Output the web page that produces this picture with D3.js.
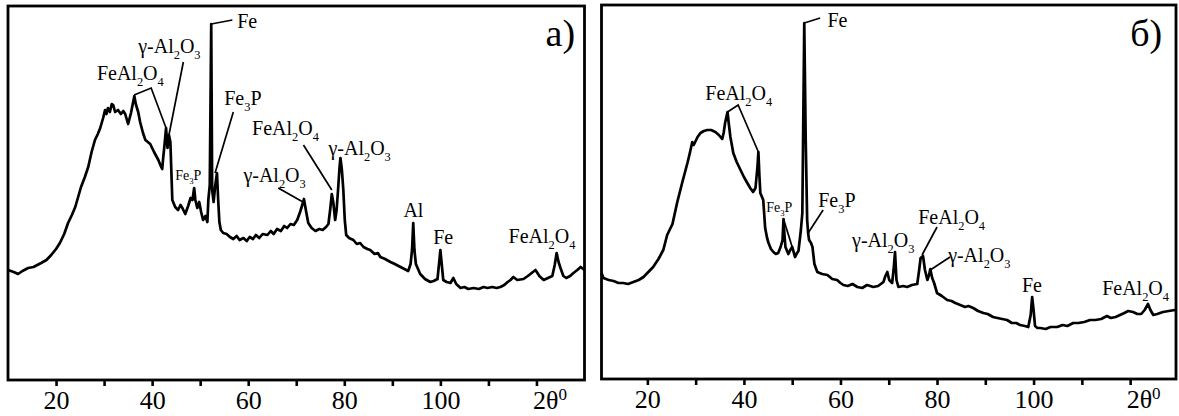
<!DOCTYPE html>
<html>
<head>
<meta charset="utf-8">
<script src="https://cdn.jsdelivr.net/npm/d3@7"></script>
<style>
  body { margin: 0; background: #fff; }
  svg { display: block; }
  svg text { font-family: "Liberation Serif", "Times New Roman", Times, Tinos, "Noto Serif", "DejaVu Serif", serif; }
  .curve { fill: none; stroke: #000; stroke-width: 2.7; stroke-linejoin: round; }
  .leader { fill: none; stroke: #000; stroke-width: 1.7; }
  .frame { fill: none; stroke: #000; stroke-width: 2.8; }
  .tick line { stroke: #000; stroke-width: 2.6; }
</style>
</head>
<body>
<svg id="chart" width="1179" height="416"></svg>
<script>
// diffraction pattern a)
const thetaA = [10.0, 11.2, 12.1, 13.0, 14.2, 15.3, 16.9, 18.0, 19.0, 20.0, 20.8, 21.7, 22.5, 23.3, 24.0, 25.2, 26.0, 26.7, 27.4, 28.1,
  28.7, 29.2, 29.8, 30.2, 30.5, 30.8, 31.2, 31.6, 31.9, 32.3, 32.9, 33.5, 34.0, 34.4, 35.0, 35.6, 36.3, 36.6, 37.1, 37.5,
  38.1, 38.6, 39.6, 40.4, 41.3, 41.8, 42.1, 42.3, 42.6, 42.9, 43.2, 43.5, 43.8, 44.2, 44.8, 45.4, 45.9, 46.3, 46.9, 47.2,
  47.5, 48.0, 48.4, 48.75, 49.0, 49.4, 49.8, 50.2, 50.6, 51.1, 51.5, 51.7, 52.0, 52.3, 52.5, 52.8, 53.1, 53.5, 53.75, 54.0,
  54.3, 54.8, 55.5, 56.2, 56.9, 57.6, 58.2, 59.0, 59.7, 60.3, 61.0, 61.6, 62.3, 63.0, 64.0, 64.7, 65.3, 66.0, 66.8, 67.5,
  68.1, 68.8, 69.5, 70.2, 70.8, 71.25, 71.6, 72.0, 72.5, 73.2, 74.0, 74.8, 75.5, 76.2, 76.7, 77.1, 77.4, 77.7, 78.1, 78.4,
  78.7, 79.0, 79.2, 79.5, 79.8, 80.1, 80.4, 81.0, 81.9, 82.6, 83.3, 84.0, 84.8, 85.4, 86.3, 87.0, 87.5, 88.5, 89.6, 90.5,
  91.7, 92.5, 93.3, 93.8, 94.1, 94.35, 94.6, 94.9, 95.8, 96.8, 97.9, 98.6, 99.4, 99.8, 100.0, 100.3, 100.6, 101.3, 102.1, 102.7,
  103.3, 104.2, 105.0, 105.8, 106.9, 108.0, 109.0, 109.8, 110.8, 111.7, 112.5, 113.3, 114.0, 114.6, 115.2, 116.0, 117.3, 118.2, 119.0, 119.8,
  120.6, 121.5, 122.4, 123.3, 123.8, 124.2, 124.6, 125.0, 125.6, 126.2, 127.0, 127.7, 128.5, 129.2, 130.0];
const intensityA = [110, 108, 106, 109, 112, 113, 117, 120, 125, 131, 137, 146, 157, 165, 173, 193, 203, 213, 228, 240,
  246, 252, 262, 270, 266, 272, 268, 276, 275, 268, 270, 266, 269, 266, 256, 267, 284, 276, 268, 258,
  247, 240, 236, 228, 220, 214, 211, 222, 236, 252, 232, 245, 238, 180, 173, 170, 175, 172, 166, 170,
  174, 182, 180, 192, 180, 172, 178, 168, 160, 164, 158, 180, 195, 356, 190, 178, 193, 207, 180, 158,
  150, 147, 146, 143, 141, 144, 140, 142, 139, 143, 141, 145, 142, 146, 145, 149, 146, 151, 149, 154,
  152, 156, 155, 160, 168, 175, 181, 170, 157, 152, 149, 151, 150, 153, 156, 172, 186, 178, 160, 170,
  190, 212, 222, 210, 190, 160, 145, 142, 140, 136, 137, 133, 131, 130, 126, 127, 123, 121, 118, 116,
  113, 111, 109, 116, 130, 157, 130, 116, 106, 101, 98, 99, 101, 120, 130, 115, 100, 98, 97, 102,
  96, 92, 93, 91, 92, 91, 93, 92, 93, 92, 93, 95, 98, 100, 103, 100, 101, 104, 107, 110,
  104, 100, 102, 104, 115, 127, 118, 112, 104, 102, 104, 107, 110, 113, 110];

// diffraction pattern б)
const thetaB = [10.5, 10.9, 12.0, 13.0, 14.0, 15.0, 16.0, 17.1, 18.2, 19.2, 20.2, 21.2, 22.3, 23.3, 24.1, 25.2, 26.2, 27.2, 28.3, 28.8,
  29.3, 29.6, 29.9, 30.4, 31.0, 31.7, 32.4, 33.2, 34.1, 34.8, 35.5, 35.8, 36.1, 36.6, 36.9, 37.2, 37.8, 38.5, 39.3, 40.0,
  40.7, 41.3, 41.9, 42.4, 42.8, 43.0, 43.2, 43.4, 44.0, 44.4, 44.8, 45.1, 45.6, 46.1, 46.6, 47.1, 47.6, 48.0, 48.2, 48.4,
  48.6, 49.2, 49.6, 50.0, 50.6, 51.0, 51.3, 51.8, 52.1, 52.5, 52.8, 53.1, 53.3, 53.5, 53.9, 54.2, 54.6, 55.2, 56.2, 57.3,
  58.3, 59.3, 60.0, 60.6, 61.5, 62.5, 63.5, 64.5, 65.5, 66.8, 67.8, 68.9, 69.3, 69.7, 70.1, 70.7, 71.0, 71.3, 71.6, 72.0,
  73.0, 73.8, 74.8, 75.9, 76.3, 76.6, 77.1, 77.5, 78.0, 78.4, 78.6, 79.0, 79.4, 80.0, 81.0, 82.1, 83.0, 83.8, 84.8, 85.8,
  86.5, 87.5, 88.5, 89.6, 90.5, 91.6, 92.5, 93.5, 94.5, 95.5, 96.4, 97.2, 98.2, 98.9, 99.4, 99.7, 100.0, 100.3, 100.8, 101.4,
  102.5, 103.5, 104.9, 106.0, 107.0, 108.2, 109.3, 110.5, 111.7, 112.8, 114.0, 115.2, 116.0, 117.0, 117.9, 118.8, 119.6, 120.6, 121.5, 122.3,
  123.0, 123.7, 124.2, 124.8, 125.6, 126.8, 128.0, 129.3];
const intensityB = [107, 102, 100, 99, 97, 97, 96, 98, 100, 103, 108, 113, 121, 130, 145, 156, 178, 197, 217, 227,
  238, 235, 238, 243, 247, 249, 250, 250, 248, 245, 241, 247, 257, 268, 255, 243, 227, 218, 210, 203,
  197, 192, 188, 192, 213, 228, 205, 187, 180, 152, 142, 137, 131, 128, 126, 127, 133, 140, 161, 145,
  133, 126, 130, 133, 123, 127, 129, 150, 167, 357, 240, 160, 147, 140, 137, 133, 116, 108, 106, 105,
  101, 100, 97, 95, 94, 96, 93, 92, 95, 93, 94, 98, 104, 108, 100, 97, 110, 128, 100, 93,
  94, 93, 95, 96, 110, 122, 124, 110, 100, 106, 111, 102, 97, 87, 84, 80, 79, 77, 75, 73,
  74, 72, 69, 67, 66, 63, 62, 61, 60, 57, 57, 55, 54, 53, 65, 83, 70, 54, 52, 52,
  51, 53, 53, 55, 54, 57, 57, 58, 60, 60, 61, 64, 62, 63, 65, 67, 69, 68, 66, 66,
  70, 76, 70, 65, 66, 68, 69, 70];

const tickValues = [20, 30, 40, 50, 60, 70, 80, 90, 100, 110, 120];
const tickLabels = ["20", "", "40", "", "60", "", "80", "", "100", "", "2θ"];
const axisUnit = "0";
const panelNames = ["a)", "б)"];

// phase labels: text (_n = subscript), 2θ and intensity of the baseline start
const labelsA = [
  { text: "FeAl_2O_4", t: 28.5, i: 300 },
  { text: "γ-Al_2O_3", t: 37.1, i: 327 },
  { text: "Fe", t: 57.7, i: 352 },
  { text: "Fe_3P", t: 55.0, i: 275 },
  { text: "Fe_3P", t: 44.8, i: 200, small: true },
  { text: "FeAl_2O_4", t: 60.8, i: 245 },
  { text: "γ-Al_2O_3", t: 76.7, i: 225 },
  { text: "γ-Al_2O_3", t: 59.0, i: 198 },
  { text: "Al", t: 92.3, i: 163 },
  { text: "Fe", t: 98.5, i: 136 },
  { text: "FeAl_2O_4", t: 114.2, i: 137 }
];
const leadersA = [
  [[36.25, 285], [39.8, 292], [42.9, 252]],
  [[46.5, 318], [43.5, 245]],
  [[52.3, 356], [56.7, 360]],
  [[56.9, 268], [53.1, 207]],
  [[71.5, 235], [77.4, 190]],
  [[66.25, 192], [71.4, 178]]
];
const labelsB = [
  { text: "Fe", t: 57.3, i: 353 },
  { text: "FeAl_2O_4", t: 32.0, i: 280 },
  { text: "Fe_3P", t: 44.6, i: 168, small: true },
  { text: "Fe_3P", t: 55.4, i: 173 },
  { text: "γ-Al_2O_3", t: 62.4, i: 133 },
  { text: "FeAl_2O_4", t: 76.1, i: 156 },
  { text: "γ-Al_2O_3", t: 82.3, i: 118 },
  { text: "Fe", t: 97.6, i: 88 },
  { text: "FeAl_2O_4", t: 114.2, i: 85 }
];
const leadersB = [
  [[36.6, 268], [38.8, 275], [43.0, 228]],
  [[52.5, 357], [55.8, 362]],
  [[56.4, 170], [53.3, 147]],
  [[48.2, 161], [50.0, 133]],
  [[80.0, 153], [76.9, 125]],
  [[82.7, 123], [78.6, 110]]
];

const svg = d3.select("#chart");
const serif = "'Liberation Serif', 'Times New Roman', Times, Tinos, 'Noto Serif', 'DejaVu Serif', serif";

const panels = [
  { left: 8, right: 584.5, top: 6, bottom: 380, domain: [10, 130], theta: thetaA, intensity: intensityA, labels: labelsA, leaders: leadersA },
  { left: 601.5, right: 1176, top: 5, bottom: 379, domain: [10.5, 129.5], theta: thetaB, intensity: intensityB, labels: labelsB, leaders: leadersB }
];

// text with subscripts written as _2
function richText(g, str, x, y, size) {
  const t = g.append("text")
    .attr("x", x)
    .attr("y", y)
    .attr("font-size", size)
    .attr("font-family", serif);
  let shift = 0;
  str.split(/(_\d+|\^\d+)/).filter((s) => s).forEach((s) => {
    let target = 0, fs = size, txt = s;
    if (s[0] === "_") { target = size * 0.28; fs = size * 0.62; txt = s.slice(1); }
    if (s[0] === "^") { target = -size * 0.42; fs = size * 0.62; txt = s.slice(1); }
    t.append("tspan").attr("dy", target - shift).attr("font-size", fs).text(txt);
    shift = target;
  });
  return t;
}

panels.forEach((p, k) => {
  const g = svg.append("g");

  const x = d3.scaleLinear().domain(p.domain).range([p.left, p.right]);
  const y = d3.scaleLinear().domain([0, 374]).range([380, 6]);

  const line = d3.line()
    .x((d) => x(d[0]))
    .y((d) => y(d[1]));

  const pts = p.theta.map((t, i) => [t, p.intensity[i]]);

  g.append("path").attr("class", "curve").attr("d", line(pts));

  g.selectAll(".leader")
    .data(p.leaders)
    .enter()
    .append("path")
    .attr("class", "leader")
    .attr("d", line);

  p.labels.forEach((l) => {
    richText(g, l.text, x(l.t), y(l.i), l.small ? 14 : 20);
  });

  g.append("text")
    .attr("x", x(k === 0 ? 121.9 : 120))
    .attr("y", y(334))
    .attr("font-size", 38)
    .attr("font-family", serif)
    .text(panelNames[k]);

  const axis = d3.axisBottom(x)
    .tickValues(tickValues)
    .tickSize(6)
    .tickPadding(5)
    .tickFormat((d, i) => tickLabels[i]);

  const ax = g.append("g")
    .attr("transform", `translate(0, ${p.bottom})`)
    .call(axis)
    .attr("font-family", serif);
  ax.select(".domain").remove();
  ax.selectAll("text")
    .attr("font-size", 26)
    .attr("fill", "#000");
  ax.selectAll(".tick")
    .filter((d) => d === 120)
    .select("text")
    .attr("text-anchor", "start")
    .attr("dx", -4)
    .append("tspan")
    .attr("font-size", 17)
    .attr("dy", "-0.55em")
    .text(axisUnit);

  g.append("rect")
    .attr("class", "frame")
    .attr("x", p.left)
    .attr("y", p.top)
    .attr("width", p.right - p.left)
    .attr("height", p.bottom - p.top);
});
</script>
</body>
</html>
